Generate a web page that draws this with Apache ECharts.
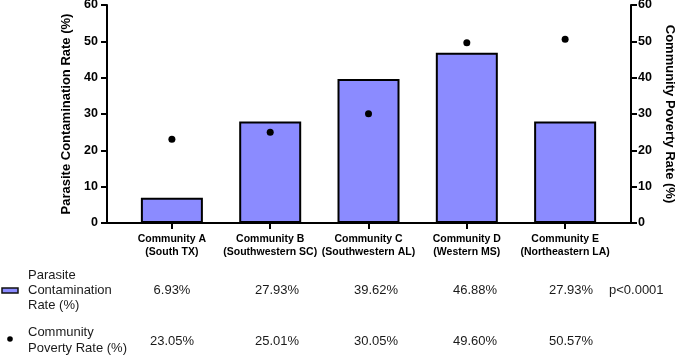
<!DOCTYPE html>
<html>
<head>
<meta charset="utf-8">
<title>Parasite Contamination vs Community Poverty</title>
<script src="https://cdn.jsdelivr.net/npm/echarts@6/dist/echarts.min.js"></script>
<style>
    html, body { margin: 0; padding: 0; background: #fff; }
    #chart { width: 676px; height: 356px; }
</style>
</head>
<body>
<div id="chart"></div>
<script>
// data
var categories = [
    'Community A\n(South TX)',
    'Community B\n(Southwestern SC)',
    'Community C\n(Southwestern AL)',
    'Community D\n(Western MS)',
    'Community E\n(Northeastern LA)'
];
var contamination = [6.93, 27.93, 39.62, 46.88, 27.93];
var poverty = [23.05, 25.01, 30.05, 49.60, 50.57];
var yTicks = [0, 10, 20, 30, 40, 50, 60];
var pValue = 'p<0.0001';

var FONT = '"Liberation Sans", Arial, Helvetica, sans-serif';
var BAR_COLOR = '#8b8bff';
var TEXT = '#1a1a1a';

var idx = categories.map(function (c, i) { return i; });
var barData = contamination.map(function (v, i) { return [i, v]; });
var dotData = poverty.map(function (v, i) { return [i, v]; });

// table columns (pixel x of each value column)
var colX = [172, 277, 376, 475, 571];

function pct(v) { return v.toFixed(2) + '%'; }

var graphics = [
    // legend icons
    { type: 'rect', shape: { x: 2, y: 288, width: 16, height: 5 },
      style: { fill: BAR_COLOR, stroke: '#111', lineWidth: 1.5 } },
    { type: 'circle', shape: { cx: 10, cy: 339, r: 2.8 }, style: { fill: '#000' } },
    // row names
    { type: 'text', x: 28, y: 290,
      style: { text: 'Parasite\nContamination\nRate (%)', font: '13px ' + FONT, fill: TEXT,
               lineHeight: 15, verticalAlign: 'middle', align: 'left' } },
    { type: 'text', x: 28, y: 340,
      style: { text: 'Community\nPoverty Rate (%)', font: '13px ' + FONT, fill: TEXT,
               lineHeight: 16, verticalAlign: 'middle', align: 'left' } },
    { type: 'text', x: 609, y: 290,
      style: { text: pValue, font: '13px ' + FONT, fill: TEXT, verticalAlign: 'middle', align: 'left' } }
];
contamination.forEach(function (v, i) {
    graphics.push({ type: 'text', x: colX[i], y: 290,
        style: { text: pct(v), font: '13px ' + FONT, fill: TEXT, align: 'center', verticalAlign: 'middle' } });
});
poverty.forEach(function (v, i) {
    graphics.push({ type: 'text', x: colX[i], y: 341,
        style: { text: pct(v), font: '13px ' + FONT, fill: TEXT, align: 'center', verticalAlign: 'middle' } });
});

function yAxisCfg(pos, name, rotate) {
    return {
        type: 'value',
        position: pos,
        min: 0, max: 60, interval: 10,
        name: name,
        nameLocation: 'middle',
        nameRotate: rotate,
        nameGap: pos === 'left' ? 33 : 31,
        nameTextStyle: { fontFamily: FONT, fontWeight: 'bold', fontSize: 13, color: '#000' },
        axisLine: { show: true, onZero: false, lineStyle: { color: '#000', width: 2 } },
        axisTick: { show: true, length: 6, lineStyle: { color: '#000', width: 2 } },
        axisLabel: { fontFamily: FONT, fontWeight: 'bold', fontSize: 12.5, color: '#000',
                     margin: pos === 'left' ? 9 : 7 },
        splitLine: { show: false }
    };
}

var chart = echarts.init(document.getElementById('chart'), null, { renderer: 'canvas' });
var option = {
    animation: false,
    backgroundColor: '#fff',
    grid: { left: 107, right: 45, top: 5, bottom: 133, outerBoundsMode: 'none', containLabel: false },
    xAxis: {
        type: 'value',
        min: -0.66, max: 4.67,
        axisLine: { show: true, onZero: false, lineStyle: { color: '#000', width: 2 } },
        axisTick: { show: true, customValues: idx, length: 6, lineStyle: { color: '#000', width: 2 } },
        axisLabel: {
            customValues: idx,
            formatter: function (v) { return categories[Math.round(v)]; },
            fontFamily: FONT, fontWeight: 'bold', fontSize: 10.5, lineHeight: 13.5,
            color: '#000', margin: 9
        },
        splitLine: { show: false }
    },
    yAxis: [
        yAxisCfg('left', 'Parasite Contamination Rate (%)', 90),
        yAxisCfg('right', 'Community Poverty Rate (%)', -90)
    ],
    series: [
        {
            name: 'Parasite Contamination Rate (%)',
            type: 'bar',
            data: barData,
            barWidth: 62,
            itemStyle: { color: BAR_COLOR, borderColor: '#000', borderWidth: 2 }
        },
        {
            name: 'Community Poverty Rate (%)',
            type: 'scatter',
            yAxisIndex: 1,
            data: dotData,
            symbolSize: 7,
            itemStyle: { color: '#000', opacity: 1 }
        }
    ],
    graphic: graphics
};
chart.setOption(option);
</script>
</body>
</html>
